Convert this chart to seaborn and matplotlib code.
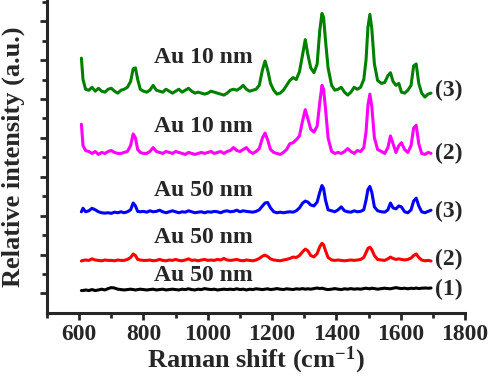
import numpy as np
import pandas as pd
import seaborn as sns
import matplotlib
matplotlib.use('Agg')
import matplotlib.pyplot as plt
from matplotlib.ticker import MultipleLocator, FixedLocator, NullFormatter

# Raman shift grid (cm-1), shared by all spectra
shift = [607, 612, 620, 630, 640, 650, 660, 670, 680, 690,
         700, 710, 720, 730, 740, 750, 760, 768, 775, 782,
         790, 800, 810, 820, 830, 840, 850, 860, 870, 880,
         890, 900, 910, 920, 930, 940, 950, 960, 970, 980,
         990, 1000, 1010, 1020, 1030, 1040, 1050, 1060, 1070, 1080,
         1090, 1100, 1110, 1120, 1130, 1140, 1150, 1160, 1170, 1178,
         1186, 1195, 1205, 1215, 1225, 1235, 1245, 1255, 1265, 1275,
         1285, 1295, 1303, 1311, 1320, 1330, 1340, 1348, 1355, 1360,
         1366, 1374, 1385, 1395, 1405, 1415, 1425, 1435, 1445, 1455,
         1465, 1475, 1485, 1492, 1498, 1504, 1510, 1518, 1528, 1540,
         1550, 1560, 1568, 1576, 1585, 1594, 1602, 1612, 1622, 1632,
         1640, 1648, 1656, 1665, 1675, 1685, 1694]

# spectra with their vertical offsets already included
green_10nm_3 = [13.1, 12.0, 11.5, 11.45, 11.6, 11.4, 11.55, 11.4, 11.35, 11.5,
                11.55, 11.4, 11.3, 11.45, 11.5, 11.6, 11.9, 12.55, 12.6, 12.0,
                11.5, 11.4, 11.35, 11.45, 11.7, 11.45, 11.4, 11.35, 11.5, 11.4,
                11.3, 11.4, 11.5, 11.35, 11.45, 11.55, 11.4, 11.3, 11.35, 11.3,
                11.25, 11.3, 11.4, 11.35, 11.3, 11.25, 11.2, 11.3, 11.45, 11.5,
                11.45, 11.55, 11.7, 11.5, 11.4, 11.45, 11.5, 11.7, 12.5, 12.95,
                12.5, 11.8, 11.45, 11.25, 11.3, 11.45, 11.7, 11.95, 12.1, 12.0,
                12.4, 13.3, 14.05, 13.3, 12.6, 12.35, 12.8, 14.5, 15.4, 15.2,
                14.0, 12.6, 11.7, 11.45, 11.5, 11.6, 11.35, 11.2, 11.35, 11.6,
                11.5, 11.6, 12.0, 13.0, 14.7, 15.35, 14.6, 12.8, 11.95, 11.8,
                11.85, 12.2, 12.35, 11.9, 11.7, 11.8, 11.35, 11.3, 11.45, 11.7,
                12.7, 12.8, 11.8, 11.3, 11.1, 11.25, 11.3]

magenta_10nm_2 = [9.7, 8.6, 8.35, 8.3, 8.2, 8.3, 8.15, 8.25, 8.2, 8.3,
                  8.35, 8.25, 8.2, 8.2, 8.25, 8.3, 8.6, 9.2, 9.0, 8.4,
                  8.25, 8.2, 8.2, 8.3, 8.5, 8.3, 8.25, 8.2, 8.3, 8.25,
                  8.2, 8.3, 8.25, 8.2, 8.15, 8.25, 8.2, 8.15, 8.2, 8.25,
                  8.2, 8.25, 8.3, 8.2, 8.25, 8.3, 8.2, 8.3, 8.35, 8.5,
                  8.35, 8.3, 8.4, 8.5, 8.3, 8.2, 8.3, 8.45, 9.0, 9.25,
                  8.9, 8.4, 8.25, 8.2, 8.15, 8.25, 8.4, 8.7, 8.75, 8.9,
                  9.1, 9.9, 10.45, 10.0, 9.45, 9.3, 9.6, 10.8, 11.7, 11.5,
                  10.5, 9.0, 8.3, 8.2, 8.25, 8.2, 8.3, 8.45, 8.3, 8.2,
                  8.35, 8.3, 8.5, 9.3, 10.7, 11.25, 10.6, 9.0, 8.4, 8.3,
                  8.2, 8.5, 9.1, 8.7, 8.25, 8.6, 8.75, 8.4, 8.25, 8.6,
                  9.5, 9.65, 8.7, 8.2, 8.15, 8.25, 8.2]

blue_50nm_3 = [5.2, 5.38, 5.2, 5.25, 5.38, 5.3, 5.2, 5.15, 5.13, 5.15,
               5.12, 5.18, 5.15, 5.2, 5.15, 5.2, 5.3, 5.65, 5.5, 5.22,
               5.2, 5.22, 5.18, 5.25, 5.2, 5.22, 5.28, 5.2, 5.15, 5.2,
               5.25, 5.2, 5.15, 5.2, 5.18, 5.25, 5.2, 5.15, 5.18, 5.2,
               5.15, 5.2, 5.18, 5.22, 5.2, 5.15, 5.22, 5.25, 5.2, 5.22,
               5.28, 5.2, 5.25, 5.22, 5.2, 5.18, 5.22, 5.3, 5.5, 5.65,
               5.68, 5.4, 5.2, 5.15, 5.18, 5.15, 5.18, 5.2, 5.18, 5.25,
               5.4, 5.65, 5.75, 5.7, 5.55, 5.5, 5.7, 6.2, 6.55, 6.4,
               5.8, 5.3, 5.25, 5.2, 5.3, 5.45, 5.25, 5.2, 5.18, 5.25,
               5.2, 5.22, 5.3, 5.8, 6.35, 6.5, 6.2, 5.45, 5.25, 5.2,
               5.18, 5.3, 5.65, 5.4, 5.35, 5.5, 5.45, 5.2, 5.15, 5.3,
               5.75, 5.9, 5.5, 5.2, 5.15, 5.22, 5.28]

red_50nm_2 = [2.67, 2.7, 2.72, 2.7, 2.78, 2.72, 2.7, 2.68, 2.72, 2.7,
              2.7, 2.68, 2.72, 2.7, 2.7, 2.75, 2.85, 3.03, 2.95, 2.75,
              2.72, 2.7, 2.7, 2.72, 2.68, 2.7, 2.75, 2.7, 2.68, 2.72,
              2.7, 2.75, 2.7, 2.68, 2.72, 2.78, 2.7, 2.72, 2.68, 2.72,
              2.75, 2.7, 2.72, 2.7, 2.75, 2.72, 2.8, 2.72, 2.7, 2.72,
              2.75, 2.7, 2.68, 2.72, 2.7, 2.68, 2.72, 2.8, 2.92, 2.97,
              2.9, 2.78, 2.72, 2.7, 2.68, 2.72, 2.75, 2.8, 2.87, 2.85,
              2.95, 3.15, 3.28, 3.2, 2.95, 2.88, 3.05, 3.4, 3.58, 3.5,
              3.2, 2.85, 2.72, 2.7, 2.72, 2.7, 2.68, 2.7, 2.72, 2.7,
              2.72, 2.75, 2.85, 3.1, 3.32, 3.38, 3.25, 2.95, 2.75, 2.72,
              2.7, 2.78, 2.87, 2.8, 2.75, 2.78, 2.75, 2.72, 2.75, 2.82,
              2.95, 3.03, 2.85, 2.72, 2.68, 2.7, 2.67]

black_50nm_1 = [1.15, 1.15, 1.18, 1.15, 1.2, 1.15, 1.18, 1.22, 1.18, 1.25,
                1.3, 1.28, 1.22, 1.2, 1.18, 1.2, 1.22, 1.2, 1.18, 1.2,
                1.22, 1.2, 1.18, 1.2, 1.22, 1.18, 1.2, 1.22, 1.18, 1.2,
                1.22, 1.2, 1.18, 1.22, 1.2, 1.24, 1.2, 1.18, 1.22, 1.2,
                1.25, 1.22, 1.2, 1.22, 1.18, 1.2, 1.22, 1.2, 1.22, 1.2,
                1.24, 1.2, 1.22, 1.18, 1.22, 1.2, 1.24, 1.22, 1.2, 1.22,
                1.24, 1.2, 1.22, 1.25, 1.22, 1.2, 1.24, 1.22, 1.2, 1.24,
                1.22, 1.25, 1.22, 1.24, 1.22, 1.25, 1.28, 1.25, 1.27, 1.25,
                1.22, 1.2, 1.22, 1.25, 1.22, 1.2, 1.24, 1.22, 1.25, 1.22,
                1.24, 1.22, 1.25, 1.27, 1.25, 1.24, 1.27, 1.25, 1.22, 1.25,
                1.27, 1.25, 1.24, 1.27, 1.3, 1.27, 1.25, 1.27, 1.24, 1.27,
                1.25, 1.28, 1.25, 1.27, 1.28, 1.27, 1.28]

series_names = ['g3', 'm2', 'b3', 'r2', 'k1']
series_colors = ['#008000', '#FF00FF', '#0000FF', '#FF0000', '#000000']
sample_labels = ['Au 10 nm', 'Au 10 nm', 'Au 50 nm', 'Au 50 nm', 'Au 50 nm']
sample_label_y = [13.13, 9.6, 6.3, 3.87, 1.9]
end_labels = ['(3)', '(2)', '(3)', '(2)', '(1)']
end_label_y = [11.44, 8.2, 5.23, 2.77, 1.23]

#%%
df = pd.DataFrame({'shift': shift, 'g3': green_10nm_3, 'm2': magenta_10nm_2,
                   'b3': blue_50nm_3, 'r2': red_50nm_2, 'k1': black_50nm_1})
df_long = pd.melt(df, id_vars=['shift'], value_vars=series_names,
                  var_name='spectrum', value_name='intensity')

sns.set_style('ticks')
plt.rcParams['font.family'] = ['Liberation Serif', 'DejaVu Serif']
plt.rcParams['font.weight'] = 'bold'
plt.rcParams['mathtext.fontset'] = 'custom'
plt.rcParams['mathtext.rm'] = 'Liberation Serif:bold'
plt.rcParams['mathtext.default'] = 'rm'

fig = plt.figure(figsize=(4.89, 3.77), dpi=100)
ax = fig.add_axes([0.0961, 0.170, 0.855, 0.828])

sns.lineplot(data=df_long, x='shift', y='intensity', hue='spectrum',
             hue_order=series_names, palette=series_colors,
             linewidth=2.2, legend=False, sort=False, estimator=None, ax=ax)

for txt, y in zip(sample_labels, sample_label_y):
    ax.text(985, y, txt, ha='center', va='center', fontsize=17, fontweight='bold')
for txt, y in zip(end_labels, end_label_y):
    ax.text(1708, y, txt, ha='left', va='center', fontsize=17, fontweight='bold')

ax.set_xlim(500, 1800)
ax.set_ylim(0, 16.05)
ax.xaxis.set_major_locator(MultipleLocator(200))
ax.xaxis.set_minor_locator(FixedLocator([500, 700, 900, 1100, 1300, 1500, 1700]))
ax.yaxis.set_major_locator(FixedLocator([1, 3, 5, 7, 9, 11, 13, 15]))
ax.yaxis.set_minor_locator(FixedLocator([2, 4, 6, 8, 10, 12, 14, 16]))
ax.yaxis.set_major_formatter(NullFormatter())
ax.set_xticks([600, 800, 1000, 1200, 1400, 1600, 1800])
ax.tick_params(axis='x', which='major', labelsize=17, length=5, width=2, pad=3)
ax.tick_params(axis='both', which='minor', length=3.5, width=2)
ax.tick_params(axis='y', which='major', length=5, width=2)
for lbl in ax.get_xticklabels():
    lbl.set_fontweight('bold')

sns.despine(ax=ax)
ax.spines['left'].set_linewidth(2.2)
ax.spines['bottom'].set_linewidth(2.2)

ax.set_xlabel('Raman shift (cm$^{-1}$)', fontsize=19, fontweight='bold', labelpad=0)
ax.set_ylabel('Relative intensity (a.u.)', fontsize=19, fontweight='bold', labelpad=7)

plt.savefig('out.png', dpi=100)
